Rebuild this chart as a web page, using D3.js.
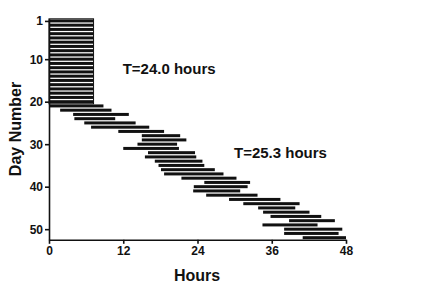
<!DOCTYPE html>
<html>
<head>
<meta charset="utf-8">
<script src="https://cdn.jsdelivr.net/npm/d3@7"></script>
<style>
  body { margin: 0; background: #fff; }
  text { font-family: "Liberation Sans", Arial, sans-serif; font-weight: bold; }
</style>
</head>
<body>
<div id="chart"></div>
<script>
// activity onset / offset (hours) for each day
var days = d3.range(1, 53);
var onsets = [0,0,0,0,0,0,0,0,0,0, 0,0,0,0,0,0,0,0,0,0,
    0, 1.8, 3.9, 4.1, 5.7, 6.8, 11.2, 15.0, 15.0, 14.3,
    12.0, 16.0, 15.5, 17.1, 17.7, 18.1, 18.6, 21.4, 25.1, 23.4,
    23.3, 25.4, 29.1, 31.4, 33.8, 34.6, 35.8, 38.8, 34.5, 38.0,
    38.0, 41.0];
var offsets = [7.2,7.2,7.2,7.2,7.2,7.2,7.2,7.2,7.2,7.2, 7.2,7.2,7.2,7.2,7.2,7.2,7.2,7.2,7.2,7.2,
    8.8, 10.1, 12.9, 10.7, 14.0, 16.2, 18.6, 21.2, 22.2, 20.7,
    21.0, 23.6, 23.8, 24.8, 25.1, 26.8, 28.2, 30.3, 32.5, 32.1,
    30.9, 33.7, 37.4, 40.5, 39.8, 42.1, 44.0, 46.2, 43.4, 47.4,
    46.8, 48.0];
var xTicks = [0, 12, 24, 36, 48];
var yTicks = [1, 10, 20, 30, 40, 50];
var labels = [
    {text: 'T=24.0 hours', hour: 11.9, day: 13.5},
    {text: 'T=25.3 hours', hour: 29.9, day: 33.3}
];

var width = 429, height = 290;

var svg = d3.select('#chart')
    .append('svg')
        .attr('width', width)
        .attr('height', height);

var x = d3.scaleLinear().domain([0, 48]).range([49, 346]);
var y = d3.scaleLinear().domain([0.5, 52.5]).range([18.8, 239.8]);

var barH = 3;

svg.append('g')
    .selectAll('rect')
    .data(days)
    .enter().append('rect')
        .attr('x', (d, i) => x(onsets[i]))
        .attr('y', d => y(d) - barH / 2)
        .attr('width', (d, i) => x(offsets[i]) - x(onsets[i]))
        .attr('height', barH)
        .attr('fill', '#111');

// outline round the entrained block
svg.append('rect')
    .attr('x', x(0))
    .attr('y', y(0.5))
    .attr('width', x(offsets[0]) - x(0))
    .attr('height', y(20.5) - y(0.5))
    .attr('fill', 'none')
    .attr('stroke', '#111')
    .attr('stroke-width', 1);

var xAxis = svg.append('g')
    .attr('transform', 'translate(0,' + y(52.5) + ')')
    .call(d3.axisBottom(x).tickValues(xTicks).tickSize(4).tickSizeOuter(0).tickPadding(3));

var yAxis = svg.append('g')
    .attr('transform', 'translate(' + x(0) + ',0)')
    .call(d3.axisLeft(y).tickValues(yTicks).tickSize(4).tickSizeOuter(0).tickPadding(2));

[xAxis, yAxis].forEach(g => {
    g.selectAll('path, line').attr('stroke', '#111').attr('stroke-width', 1.6);
    g.selectAll('text').attr('fill', '#111').style('font-size', '12px');
});

svg.append('text')
    .attr('x', 197)
    .attr('y', 281)
    .attr('text-anchor', 'middle')
    .style('font-size', '16px')
    .attr('fill', '#111')
    .text('Hours');

svg.append('text')
    .attr('transform', 'translate(21,129) rotate(-90)')
    .attr('text-anchor', 'middle')
    .style('font-size', '16px')
    .attr('fill', '#111')
    .text('Day Number');

svg.selectAll('.note')
    .data(labels)
    .enter().append('text')
        .attr('class', 'note')
        .attr('x', d => x(d.hour))
        .attr('y', d => y(d.day))
        .style('font-size', '15px')
        .attr('fill', '#111')
        .text(d => d.text);
</script>
</body>
</html>
